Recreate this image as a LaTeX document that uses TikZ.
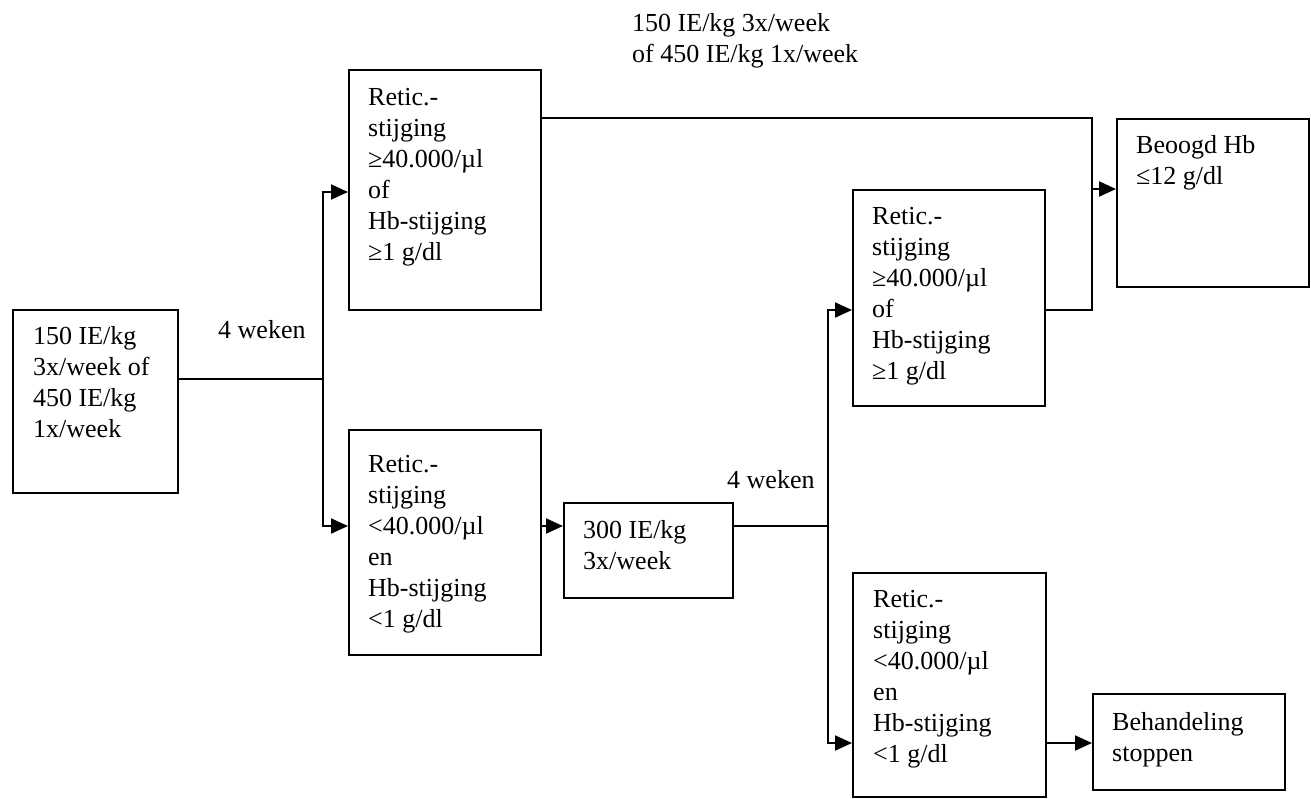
\documentclass[tikz,border=0pt]{standalone}
\usepackage{fontspec}
\setmainfont{Liberation Serif}
\usetikzlibrary{arrows.meta}
\newcommand{\boxtxt}[1]{\parbox[t]{260pt}{\raggedright #1}}
\begin{document}
\begin{tikzpicture}[x=1pt,y=-1pt,
  box/.style={draw, line width=2pt, rectangle, inner sep=0pt, anchor=north west},
  txt/.style={anchor=base west, inner sep=0pt, font=\fontsize{26}{31}\selectfont},
  conn/.style={line width=2pt},
  arr/.style={line width=2pt, -{Triangle[length=17pt,width=15pt]}}]
\useasboundingbox (0,0) rectangle (1311,798);
% boxes
\node[box, minimum width=165pt, minimum height=183pt] (A) at (12,309) {};
\node[box, minimum width=192pt, minimum height=240pt] (B) at (348,69) {};
\node[box, minimum width=192pt, minimum height=225pt] (C) at (348,429) {};
\node[box, minimum width=169pt, minimum height=95pt] (D) at (563,502) {};
\node[box, minimum width=192pt, minimum height=216pt] (E) at (852,189) {};
\node[box, minimum width=193pt, minimum height=224pt] (F) at (852,572) {};
\node[box, minimum width=192pt, minimum height=168pt] (G) at (1116,118) {};
\node[box, minimum width=192pt, minimum height=96pt] (H) at (1092,693) {};
% texts
\node[txt] (At) at (33,344) {\boxtxt{150 IE/kg\\3x/week of\\450 IE/kg\\1x/week}};
\node[txt] (Bt) at (368,105.5) {\boxtxt{Retic.-\\stijging\\≥40.000/µl\\of\\Hb-stijging\\≥1 g/dl}};
\node[txt] (Ct) at (368,472) {\boxtxt{Retic.-\\stijging\\<40.000/µl\\en\\Hb-stijging\\<1 g/dl}};
\node[txt] (Dt) at (583,538) {\boxtxt{300 IE/kg\\3x/week}};
\node[txt] (Et) at (872,224) {\boxtxt{Retic.-\\stijging\\≥40.000/µl\\of\\Hb-stijging\\≥1 g/dl}};
\node[txt] (Ft) at (873,607) {\boxtxt{Retic.-\\stijging\\<40.000/µl\\en\\Hb-stijging\\<1 g/dl}};
\node[txt] (Gt) at (1136,153) {\boxtxt{Beoogd Hb\\≤12 g/dl}};
\node[txt] (Ht) at (1112,730) {\boxtxt{Behandeling\\stoppen}};
\node[txt] (top) at (632,31.7) {\boxtxt{150 IE/kg 3x/week\\of 450 IE/kg 1x/week}};
\node[txt] (w1) at (218,338) {4 weken};
\node[txt] (w2) at (727,488) {4 weken};
% junction coordinates
\coordinate (j1) at (323,379);
\coordinate (j1t) at (323,192);
\coordinate (j1b) at (323,526);
\coordinate (j2) at (828,526);
\coordinate (j2t) at (828,310);
\coordinate (j2b) at (828,743);
\coordinate (k1) at (1092,118);
\coordinate (k2) at (1092,310);
\coordinate (k3) at (1092,189);
% connectors
\draw[conn] (A.east |- j1) -- (j1);
\draw[arr] (j1) -- (j1t) -- (B.west |- j1t);
\draw[arr] (j1) -- (j1b) -- (C.west |- j1b);
\draw[arr] (C.east |- j1b) -- (D.west |- j1b);
\draw[conn] (D.east |- j2) -- (j2);
\draw[arr] (j2) -- (j2t) -- (E.west |- j2t);
\draw[arr] (j2) -- (j2b) -- (F.west |- j2b);
\draw[arr] (F.east |- j2b) -- (H.west |- j2b);
\draw[conn] (B.east |- k1) -- (k1) -- (k2) -- (E.east |- k2);
\draw[arr] (k3) -- (G.west |- k3);
\end{tikzpicture}
\end{document}
